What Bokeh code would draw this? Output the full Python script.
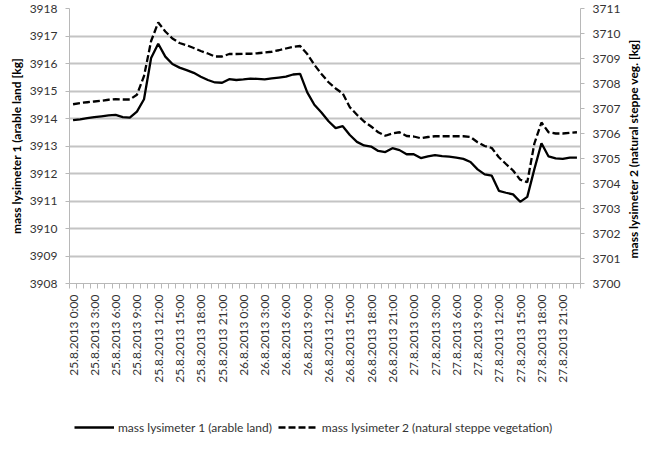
import math
from bokeh.plotting import figure
from bokeh.layouts import column
from bokeh.models import Range1d, LinearAxis, FixedTicker, Legend, LegendItem, ColumnDataSource
from bokeh.embed import file_html
from bokeh.resources import INLINE

# hourly values 25.8.2013 0:00 ... 27.8.2013 23:00
lys1 = [3913.94, 3913.97, 3914.01, 3914.05, 3914.08, 3914.11, 3914.13, 3914.05, 3914.03, 3914.25,
        3914.70, 3916.20, 3916.72, 3916.25, 3915.98, 3915.85, 3915.76, 3915.66, 3915.52, 3915.40,
        3915.31, 3915.30, 3915.43, 3915.40, 3915.42, 3915.45, 3915.44, 3915.42, 3915.46, 3915.49,
        3915.52, 3915.60, 3915.62, 3914.95, 3914.50, 3914.22, 3913.90, 3913.65, 3913.72, 3913.40,
        3913.15, 3913.02, 3912.98, 3912.82, 3912.78, 3912.92, 3912.85, 3912.70, 3912.70, 3912.56,
        3912.62, 3912.67, 3912.63, 3912.61, 3912.58, 3912.53, 3912.42, 3912.15, 3911.97, 3911.92,
        3911.37, 3911.30, 3911.24, 3910.97, 3911.15, 3912.16, 3913.10, 3912.62, 3912.55, 3912.53,
        3912.58, 3912.58]
lys2 = [3707.17, 3707.22, 3707.25, 3707.28, 3707.31, 3707.35, 3707.37, 3707.36, 3707.36, 3707.55,
        3708.30, 3709.70, 3710.44, 3710.08, 3709.80, 3709.62, 3709.53, 3709.42, 3709.30, 3709.20,
        3709.08, 3709.08, 3709.18, 3709.18, 3709.19, 3709.19, 3709.21, 3709.24, 3709.27, 3709.33,
        3709.40, 3709.47, 3709.50, 3709.18, 3708.75, 3708.38, 3708.05, 3707.80, 3707.60, 3707.05,
        3706.75, 3706.48, 3706.28, 3706.05, 3705.91, 3706.00, 3706.05, 3705.90, 3705.88, 3705.81,
        3705.86, 3705.89, 3705.89, 3705.89, 3705.89, 3705.89, 3705.86, 3705.65, 3705.50, 3705.42,
        3705.05, 3704.78, 3704.52, 3704.15, 3704.05, 3705.60, 3706.44, 3706.05, 3706.00, 3706.00,
        3706.03, 3706.05]
tick_labels = ["25.8.2013 0:00", "25.8.2013 3:00", "25.8.2013 6:00", "25.8.2013 9:00",
               "25.8.2013 12:00", "25.8.2013 15:00", "25.8.2013 18:00", "25.8.2013 21:00",
               "26.8.2013 0:00", "26.8.2013 3:00", "26.8.2013 6:00", "26.8.2013 9:00",
               "26.8.2013 12:00", "26.8.2013 15:00", "26.8.2013 18:00", "26.8.2013 21:00",
               "27.8.2013 0:00", "27.8.2013 3:00", "27.8.2013 6:00", "27.8.2013 9:00",
               "27.8.2013 12:00", "27.8.2013 15:00", "27.8.2013 18:00", "27.8.2013 21:00"]
left_ticks = [3908, 3909, 3910, 3911, 3912, 3913, 3914, 3915, 3916, 3917, 3918]
right_ticks = [3700, 3701, 3702, 3703, 3704, 3705, 3706, 3707, 3708, 3709, 3710, 3711]
left_title = "mass lysimeter 1 (arable land [kg]"
right_title = "mass lysimeter 2 (natural steppe veg. [kg]"
series_names = ["mass lysimeter 1 (arable land)", "mass lysimeter 2 (natural steppe vegetation)"]

FONT = "Lato"
TXT = "#333333"
AX = "#b8b8b8"
GRID = "#c4c4c4"
RIGHT_TITLE_AT = 3701  # where the rotated right title starts (layout)

n = len(lys1)
xs = list(range(n))
src = ColumnDataSource(dict(x=xs, y1=lys1, y2=lys2))

p = figure(frame_width=511, frame_height=275, output_backend="svg", toolbar_location=None,
           x_range=Range1d(-0.5, n - 0.5), y_range=Range1d(left_ticks[0], left_ticks[-1]),
           min_border_left=69, min_border_right=66, min_border_top=8, min_border_bottom=125)
p.extra_y_ranges = {"right": Range1d(right_ticks[0], right_ticks[-1])}
p.outline_line_color = None
p.background_fill_color = "white"
p.border_fill_color = "white"
p.xgrid.visible = False
p.ygrid.ticker = FixedTicker(ticks=left_ticks)
p.ygrid.grid_line_color = GRID
p.ygrid.grid_line_width = 2

r1 = p.line("x", "y1", source=src, line_color="black", line_width=2.3)
r2 = p.line("x", "y2", source=src, y_range_name="right", line_color="black", line_width=2.3,
            line_dash="7 3")

# x axis
xa = p.xaxis[0]
major = [i * 3 for i in range(len(tick_labels))]
xa.ticker = FixedTicker(ticks=major, minor_ticks=[i - 0.5 for i in range(n + 1)])
xa.major_label_overrides = {m: lab for m, lab in zip(major, tick_labels)}
xa.major_label_orientation = math.pi / 2
xa.major_tick_out = 0
xa.major_tick_in = 0
xa.minor_tick_out = 5
xa.minor_tick_in = 0
xa.axis_line_color = AX
xa.minor_tick_line_color = AX
xa.major_label_text_font = FONT
xa.major_label_text_font_size = "12px"
xa.major_label_text_color = TXT
xa.major_label_standoff = 6

# left axis
ya = p.yaxis[0]
ya.ticker = FixedTicker(ticks=left_ticks)
ya.minor_tick_line_color = None
ya.major_tick_out = 4
ya.major_tick_in = 0
ya.major_tick_line_color = AX
ya.axis_line_color = AX
ya.major_label_text_font = FONT
ya.major_label_text_font_size = "12px"
ya.major_label_text_color = TXT
ya.major_label_standoff = 8
ya.axis_label = left_title
ya.axis_label_text_font = FONT
ya.axis_label_text_font_style = "bold"
ya.axis_label_text_font_size = "12px"
ya.axis_label_text_color = "black"
ya.axis_label_standoff = 3

# right axis
ra = LinearAxis(y_range_name="right", ticker=FixedTicker(ticks=right_ticks))
ra.minor_tick_line_color = None
ra.major_tick_out = 4
ra.major_tick_in = 0
ra.major_tick_line_color = AX
ra.axis_line_color = AX
ra.major_label_text_font = FONT
ra.major_label_text_font_size = "12px"
ra.major_label_text_color = TXT
ra.major_label_standoff = 8
p.add_layout(ra, "right")

# right title, reading bottom-to-top
rt = LinearAxis(y_range_name="right", ticker=FixedTicker(ticks=[RIGHT_TITLE_AT]))
rt.major_label_overrides = {RIGHT_TITLE_AT: right_title}
rt.major_label_orientation = math.pi / 2
rt.axis_line_color = None
rt.major_tick_line_color = None
rt.minor_tick_line_color = None
rt.major_label_standoff = 4
rt.major_label_text_font = FONT
rt.major_label_text_font_style = "bold"
rt.major_label_text_font_size = "12px"
rt.major_label_text_color = "black"
p.add_layout(rt, "right")

# legend strip below the chart
lf = figure(width=646, height=33, output_backend="svg", toolbar_location=None,
            x_range=Range1d(-0.5, n - 0.5), y_range=Range1d(0, 1),
            x_axis_location=None, y_axis_location=None,
            min_border_left=0, min_border_right=0, min_border_top=0, min_border_bottom=0)
lf.outline_line_color = None
lf.xgrid.visible = False
lf.ygrid.visible = False
lf.extra_y_ranges = {"right": Range1d(0, 1)}
l1 = lf.line("x", "y1", source=src, line_color="black", line_width=2.3)
l2 = lf.line("x", "y2", source=src, y_range_name="right", line_color="black", line_width=2.3,
             line_dash="7 3")
legend = Legend(items=[LegendItem(label=series_names[0], renderers=[l1]),
                       LegendItem(label=series_names[1], renderers=[l2])],
                orientation="horizontal", location=(5, 4))
legend.label_text_font = FONT
legend.label_text_font_size = "12px"
legend.label_text_color = TXT
legend.border_line_color = None
legend.background_fill_alpha = 0
legend.glyph_width = 40
legend.spacing = 6
legend.label_standoff = 4
legend.margin = 0
legend.padding = 3
lf.add_layout(legend, "center")

open("out.html", "w").write(file_html(column(p, lf), INLINE))
